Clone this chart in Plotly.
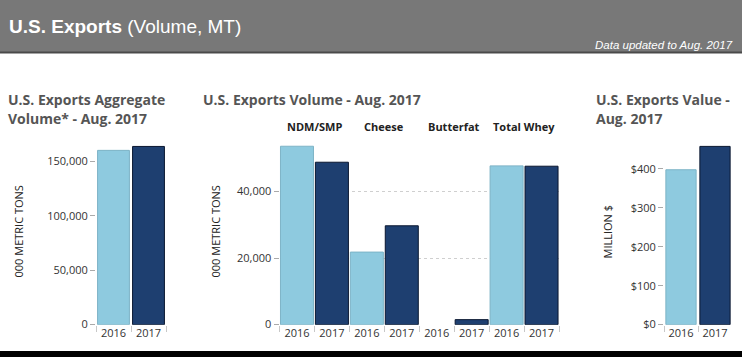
import plotly.graph_objects as go

W, H = 742, 364

# ---------------- data ----------------
years = ["2016", "2017"]
agg_volume = [160100, 163700]          # 000 metric tons
products = ["NDM/SMP", "Cheese", "Butterfat", "Total Whey"]
vol_2016 = [53600, 21800, None, 47700]
vol_2017 = [48800, 29700, 1500, 47600]
value_musd = [398, 458]                # million $

agg_ticks = [0, 50000, 100000, 150000]
vol_ticks = [0, 20000, 40000]
val_ticks = [0, 100, 200, 300, 400]
val_ticklabels = ["$0", "$100", "$200", "$300", "$400"]

C16, C16_LINE = "#8ECADF", "#7DB3C6"
C17, C17_LINE = "#1E3F70", "#0A1730"
FONT = "Open Sans"
TXT = "#333333"


def px(x):
    return x / W


def py(y):
    return 1 - y / H


y_dom = [py(331), py(143)]

fig = go.Figure()

# Panel 1 - aggregate volume
fig.add_trace(go.Bar(
    x=years, y=agg_volume, xaxis="x", yaxis="y",
    marker=dict(color=[C16, C17], line=dict(color=[C16_LINE, C17_LINE], width=1)),
    width=0.91, showlegend=False, hoverinfo="x+y"))

# Panel 2 - volume by product
cats = [f"{p} {yr}" for p in products for yr in years]
fig.add_trace(go.Bar(
    x=[f"{p} 2016" for p in products], y=vol_2016, xaxis="x2", yaxis="y2",
    marker=dict(color=C16, line=dict(color=C16_LINE, width=1)),
    width=0.945, showlegend=False))
fig.add_trace(go.Bar(
    x=[f"{p} 2017" for p in products], y=vol_2017, xaxis="x2", yaxis="y2",
    marker=dict(color=C17, line=dict(color=C17_LINE, width=1)),
    width=0.945, showlegend=False))

# Panel 3 - value
fig.add_trace(go.Bar(
    x=years, y=value_musd, xaxis="x3", yaxis="y3",
    marker=dict(color=[C16, C17], line=dict(color=[C16_LINE, C17_LINE], width=1)),
    width=0.89, showlegend=False))

xcommon = dict(type="category", tickson="boundaries", ticks="outside", ticklen=6,
               tickcolor="#c8c8c8", showgrid=False, zeroline=False, showline=False,
               tickangle=0,
               tickfont=dict(family=FONT, size=11, color=TXT), fixedrange=True)
ycommon = dict(ticks="outside", ticklen=5, tickcolor="#aaaaaa", showline=False,
               tickfont=dict(family=FONT, size=11, color=TXT), domain=y_dom,
               fixedrange=True, zeroline=False)

fig.update_layout(
    width=W, height=H, margin=dict(l=0, r=0, t=0, b=0),
    paper_bgcolor="white", plot_bgcolor="rgba(0,0,0,0)",
    barmode="overlay",
    xaxis=dict(domain=[px(96), px(166)], **xcommon),
    yaxis=dict(range=[0, 169400], tickvals=agg_ticks, tickformat=",", showgrid=False,
               anchor="x", **ycommon),
    xaxis2=dict(domain=[px(279.5), px(559)], categoryorder="array", categoryarray=cats,
                tickvals=cats, ticktext=[c.split(" ")[-1] for c in cats],
                anchor="y2", **xcommon),
    yaxis2=dict(range=[0, 55400], tickvals=vol_ticks, tickformat=",", showgrid=True,
                gridcolor="#cfcfcf", griddash="dot", gridwidth=1, anchor="x2", **ycommon),
    xaxis3=dict(domain=[px(664), px(732)], anchor="y3", **xcommon),
    yaxis3=dict(range=[0, 473.8], tickvals=val_ticks, ticktext=val_ticklabels,
                showgrid=False, anchor="x3", **ycommon),
)

shapes = [
    dict(type="rect", xref="paper", yref="paper", x0=0, x1=1, y0=py(53), y1=1,
         fillcolor="#787878", line=dict(width=0), layer="below"),
    dict(type="line", xref="paper", yref="paper", x0=0, x1=1, y0=py(53.5), y1=py(53.5),
         line=dict(color="#4a4a4a", width=2)),
    dict(type="rect", xref="paper", yref="paper", x0=0, x1=1, y0=0, y1=py(358),
         fillcolor="black", line=dict(width=0)),
]
fig.update_layout(shapes=shapes)

ann = []
# header
ann.append(dict(text="<b>U.S. Exports</b> (Volume, MT)", x=px(7), y=py(27), xref="paper",
                yref="paper", xanchor="left", yanchor="middle", showarrow=False,
                font=dict(family="Liberation Sans, Arial, sans-serif", size=19, color="white")))
ann.append(dict(text="<i>Data updated to Aug. 2017</i>", x=px(735), y=py(45.5), xref="paper",
                yref="paper", xanchor="right", yanchor="middle", showarrow=False,
                font=dict(family="Liberation Sans, Arial, sans-serif", size=11.5, color="white")))

title_font = dict(family=FONT, size=14, color="#555555")
for txt, x, y in [
    ("<b>U.S. Exports Aggregate</b>", 6, 101),
    ("<b>Volume* - Aug. 2017</b>", 6, 120.5),
    ("<b>U.S. Exports Volume - Aug. 2017</b>", 201, 101),
    ("<b>U.S. Exports Value -</b>", 594, 101),
    ("<b>Aug. 2017</b>", 594, 120.5),
]:
    ann.append(dict(text=txt, x=px(x), y=py(y), xref="paper", yref="paper",
                    xanchor="left", yanchor="middle", showarrow=False, font=title_font))

# product headers
for i, p in enumerate(products):
    ann.append(dict(text=f"<b>{p}</b>", x=2 * i + 0.5, y=py(129), xref="x2", yref="paper",
                    xanchor="center", yanchor="middle", showarrow=False,
                    font=dict(family=FONT, size=11, color="#222222")))

# axis titles
for txt, x in [("000 METRIC TONS", 18), ("000 METRIC TONS", 215), ("MILLION $", 607)]:
    ann.append(dict(text=txt, x=px(x), y=py(236), xref="paper", yref="paper",
                    xanchor="center", yanchor="middle", textangle=-90, showarrow=False,
                    font=dict(family=FONT, size=11, color="#222222")))

fig.update_layout(annotations=ann)

fig.write_html(
    "out.html",
    config={"displayModeBar": False},
    post_script="document.body.style.margin='0';document.body.style.overflow='hidden';",
)
